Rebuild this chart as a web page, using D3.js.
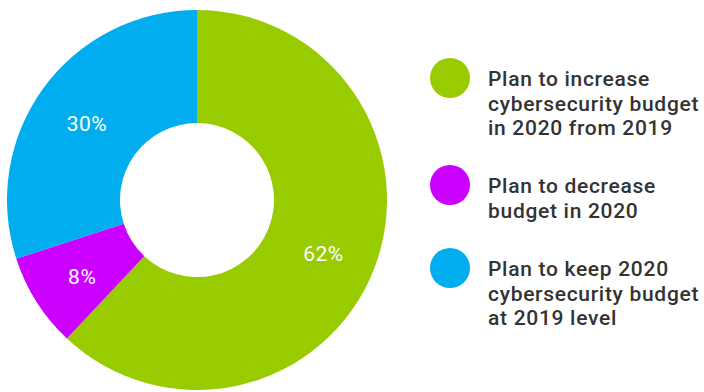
<!DOCTYPE html>
<html>
<head>
<meta charset="utf-8">
<script src="https://d3js.org/d3.v7.min.js"></script>
<style>
  body { margin: 0; background: #fff; }
  text { font-family: Roboto, "DejaVu Sans", sans-serif; font-weight: 500; }
</style>
</head>
<body>
<script>
// data
var categories = ["Plan to increase cybersecurity budget in 2020 from 2019",
                  "Plan to decrease budget in 2020",
                  "Plan to keep 2020 cybersecurity budget at 2019 level"];
var values = [62, 8, 30];
var legendLines = [
  ["Plan to increase", "cybersecurity budget", "in 2020 from 2019"],
  ["Plan to decrease", "budget in 2020"],
  ["Plan to keep 2020", "cybersecurity budget", "at 2019 level"]
];
var colors = ["#99cc00", "#cc00ff", "#00aeef"];

var width = 704, height = 392;
var cx = 197, cy = 200, outerR = 190, innerR = 77;

var svg = d3.select("body").append("svg")
  .attr("width", width)
  .attr("height", height);

var color = d3.scaleOrdinal().domain(categories).range(colors);

var pie = d3.pie().sort(null).value(function(d) { return d; });
var arc = d3.arc().innerRadius(innerR).outerRadius(outerR);
var labelArc = d3.arc().innerRadius(136).outerRadius(136);

var g = svg.append("g").attr("transform", "translate(" + cx + "," + cy + ")");

var arcs = pie(values);

g.selectAll("path.slice")
  .data(arcs)
  .enter().append("path")
  .attr("class", "slice")
  .attr("d", arc)
  .attr("fill", function(d, i) { return color(categories[i]); });

g.selectAll("text.pct")
  .data(arcs)
  .enter().append("text")
  .attr("class", "pct")
  .attr("transform", function(d) {
    var c = labelArc.centroid(d);
    return "translate(" + c[0] + "," + (c[1] + 4) + ")";
  })
  .attr("text-anchor", "middle")
  .attr("dy", "0.35em")
  .attr("fill", "#fff")
  .attr("font-size", 21)
  .style("font-weight", 400)
  .attr("letter-spacing", 0.5)
  .text(function(d) { return d.value + "%"; });

// legend
var legendY = [78, 185, 268];
var legend = svg.selectAll("g.legend")
  .data(categories)
  .enter().append("g")
  .attr("class", "legend")
  .attr("transform", function(d, i) { return "translate(450," + legendY[i] + ")"; });

legend.append("circle")
  .attr("r", 20)
  .attr("fill", function(d) { return color(d); });

legend.each(function(d, i) {
  var t = d3.select(this).append("text")
    .attr("x", 38)
    .attr("y", 8)
    .attr("fill", "#333")
    .attr("font-size", 21)
    .attr("letter-spacing", 0.7);
  legendLines[i].forEach(function(line, j) {
    t.append("tspan").attr("x", 38).attr("dy", j === 0 ? 0 : 24.5).text(line);
  });
});
</script>
</body>
</html>
